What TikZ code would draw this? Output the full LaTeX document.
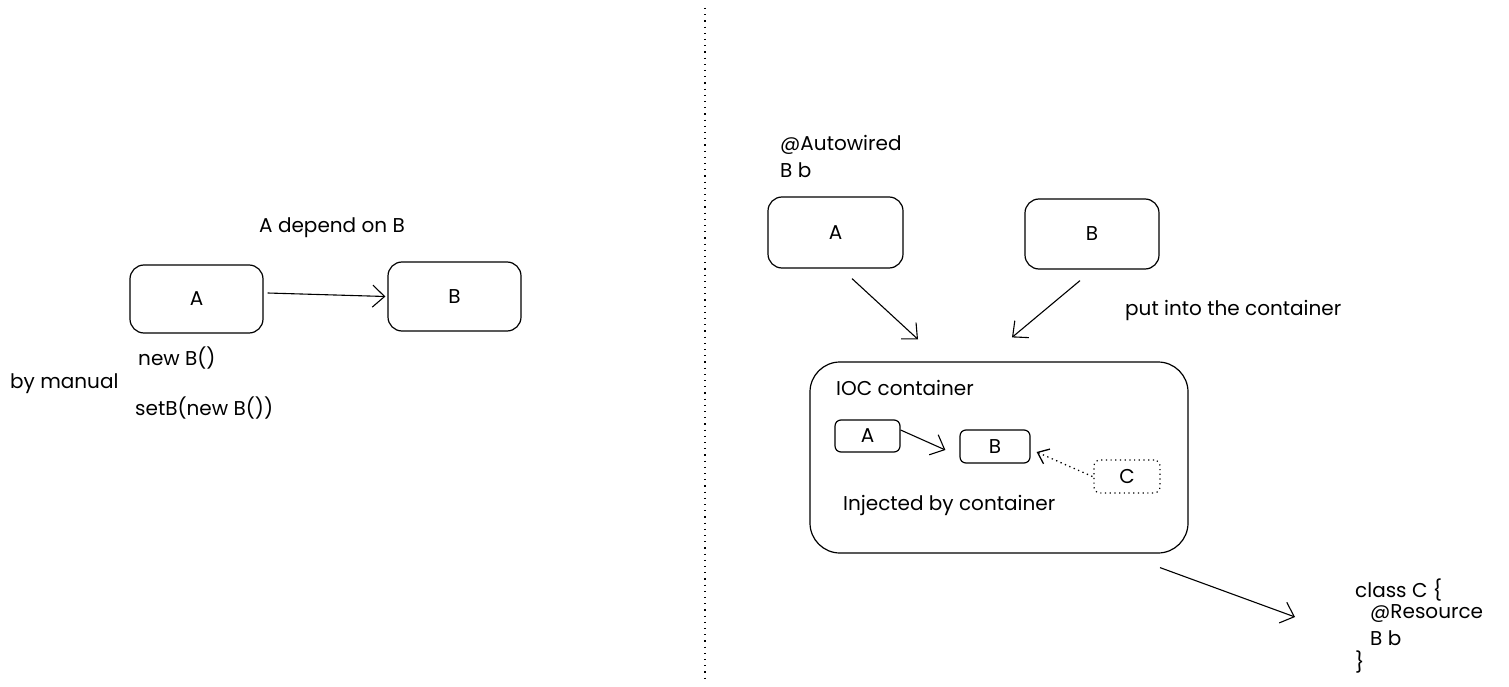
\documentclass[tikz,border=0pt]{standalone}
\usepackage{fontspec}
\setmainfont{Poppins}
\usetikzlibrary{arrows.meta}
\begin{document}
\begin{tikzpicture}[x=1pt,y=-1pt,
  box/.style={draw,line width=1.2pt,rounded corners=14pt,inner sep=0pt,font=\fontsize{20}{24}\selectfont},
  sbox/.style={draw,line width=1.2pt,rounded corners=6pt,inner sep=0pt,font=\fontsize{20}{24}\selectfont},
  lbl/.style={inner sep=0pt,font=\fontsize{20}{24}\selectfont},
  arr/.style={line width=1.1pt,-{Straight Barb[length=12pt,width=22pt,line width=1.1pt]}},
  darr/.style={line width=1.3pt,dash pattern=on 1.3pt off 3.5pt,-{Straight Barb[length=10pt,width=16pt,line width=1.3pt]}}]
\useasboundingbox (0,0) rectangle (1509,687);
\coordinate (vt) at (705,8);
\coordinate (vb) at (705,680);
\draw[line width=1.2pt,dash pattern=on 1.2pt off 5pt] (vt) -- (vb);

% left side
\node[box,minimum width=133pt,minimum height=68pt] (lA) at (196.5,299) {A};
\node[box,minimum width=133pt,minimum height=69pt] (lB) at (454.5,296.5) {B};
\draw[arr] ([shift={(4,-6)}]lA.east) -- ([xshift=-2pt]lB.west);
\node[lbl] (dep) at (332,228) {A depend on B};
\node[lbl,anchor=west] (newb) at (138,358) {new B()};
\node[lbl,anchor=west] (man) at (10,384) {by manual};
\node[lbl,anchor=west] (setb) at (135,408) {setB(new B())};

% right side
\node[lbl,anchor=west] (aw1) at (780,145) {@Autowired};
\node[lbl,anchor=west] (aw2) at (780,170) {B b};
\node[box,minimum width=135pt,minimum height=71pt] (rA) at (835.5,232.5) {A};
\node[box,minimum width=134pt,minimum height=70pt] (rB) at (1092,234) {B};
\node[lbl,anchor=west] (put) at (1125,310) {put into the container};
\node[draw,line width=1.2pt,rounded corners=30pt,minimum width=378pt,minimum height=191pt] (ioc) at (999,457.5) {};
\draw[arr] ([shift={(16.5,10)}]rA.south) -- ([shift={(-81,-22)}]ioc.north);
\draw[arr] ([shift={(-12,11)}]rB.south) -- ([shift={(13,-24)}]ioc.north);
\node[lbl,anchor=west] (ioct) at (836,388) {IOC container};
\node[sbox,minimum width=65pt,minimum height=32pt] (iA) at (867.5,436) {A};
\node[sbox,minimum width=70pt,minimum height=33pt] (iB) at (995,446.5) {B};
\node[sbox,dash pattern=on 1.2pt off 3.5pt,minimum width=66pt,minimum height=33pt] (iC) at (1127,476.5) {C};
\draw[arr] ([yshift=6pt]iA.east) -- ([shift={(-14,3.5)}]iB.west);
\draw[darr] ([xshift=-1pt]iC.west) -- ([shift={(6,5.5)}]iB.east);
\node[lbl,anchor=west] (inj) at (843,505) {Injected by container};

\node[lbl,anchor=west] (c1) at (1355,590) {class C \{};
\node[lbl,anchor=west] (c2) at (1370,614) {@Resource};
\node[lbl,anchor=west] (c3) at (1370,638) {B b};
\node[lbl,anchor=west] (c4) at (1355,662) {\}};
\draw[arr] ([shift={(161,14)}]ioc.south) -- ([shift={(-60,27)}]c1.west);
\end{tikzpicture}
\end{document}
